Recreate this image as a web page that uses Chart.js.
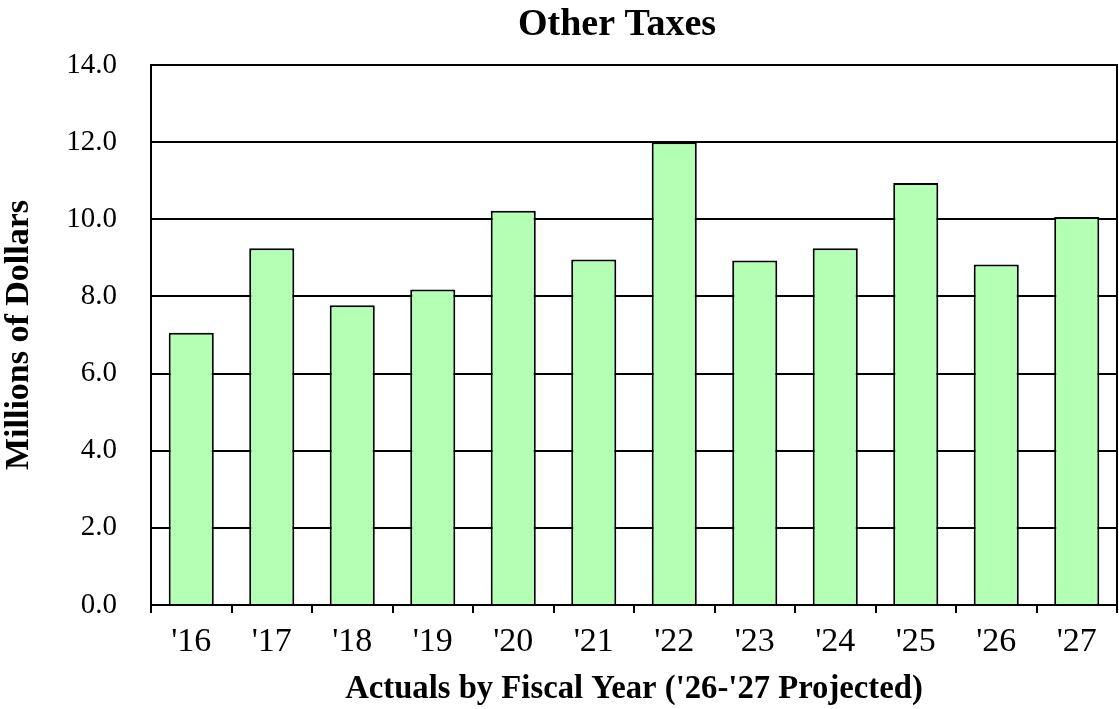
<!DOCTYPE html>
<html><head><meta charset="utf-8">
<style>html,body{margin:0;padding:0;background:#fff;overflow:hidden}#wrap{width:1119px;height:709px;position:relative}</style>
<script src="https://cdn.jsdelivr.net/npm/chart.js@4.4.0/dist/chart.umd.min.js"></script>
</head><body><div id="wrap"><canvas id="c" width="1119" height="709"></canvas></div>
<script>
const categories = ["'16","'17","'18","'19","'20","'21","'22","'23","'24","'25","'26","'27"];
const values = [7.06, 9.25, 7.77, 8.18, 10.22, 8.96, 12.0, 8.93, 9.25, 10.94, 8.83, 10.06];
const yMin = 0, yMax = 14, yStep = 2;
const titleText = "Other Taxes";
const xTitle = "Actuals by Fiscal Year ('26-'27 Projected)";
const yTitle = "Millions of Dollars";

const FONT = "'Liberation Serif','Times New Roman',serif";

const framePlugin = {
  id: 'frame',
  afterDatasetsDraw(chart) {
    const {ctx, chartArea: a} = chart;
    ctx.save();
    ctx.strokeStyle = '#000';
    ctx.lineWidth = 2;
    ctx.strokeRect(a.left, a.top, a.right - a.left, a.bottom - a.top);
    ctx.restore();
  }
};

const titlePlugin = {
  id: 'chartTitle',
  afterDraw(chart) {
    const {ctx, chartArea: a} = chart;
    ctx.save();
    ctx.fillStyle = '#000';
    ctx.font = "bold 38px " + FONT;
    ctx.textAlign = 'center';
    ctx.textBaseline = 'alphabetic';
    ctx.fillText(titleText, (a.left + a.right) / 2 - 17, a.top - 30);
    ctx.restore();
  }
};

new Chart(document.getElementById('c'), {
  type: 'bar',
  data: {
    labels: categories,
    datasets: [{
      data: values,
      backgroundColor: '#b3ffb3',
      borderColor: '#000',
      borderWidth: 2,
      barPercentage: 0.56,
      categoryPercentage: 1.0
    }]
  },
  options: {
    responsive: false,
    animation: false,
    devicePixelRatio: 1,
    layout: { padding: { left: 0, right: 2, top: 65, bottom: 0 } },
    plugins: {
      legend: { display: false },
      tooltip: { enabled: false },
      title: { display: false }
    },
    scales: {
      x: {
        offset: true,
        grid: { display: true, drawOnChartArea: false, drawTicks: true, tickLength: 8, color: '#000', lineWidth: 2 },
        border: { display: true, color: '#000', width: 2 },
        ticks: { color: '#000', font: { family: FONT, size: 34, lineHeight: 1.2 }, padding: 9, maxRotation: 0, autoSkip: false },
        title: { display: true, text: xTitle, color: '#000', font: { family: FONT, size: 32.7, weight: 'bold', lineHeight: 1.2 }, padding: { top: 0, bottom: 0 } },
        afterFit(scale) { scale.height = 104; }
      },
      y: {
        min: yMin, max: yMax,
        grid: { display: true, drawTicks: false, color: '#000', lineWidth: 2 },
        border: { display: true, color: '#000', width: 2 },
        ticks: { stepSize: yStep, color: '#000', font: { family: FONT, size: 29, lineHeight: 1.2 }, padding: 34, callback: v => Number(v).toFixed(1) },
        title: { display: true, text: yTitle, color: '#000', font: { family: FONT, size: 34, weight: 'bold', lineHeight: 1.0 }, padding: { top: 2, bottom: 0 } },
        afterFit(scale) { scale.width = 151; }
      }
    }
  },
  plugins: [framePlugin, titlePlugin]
});
</script></body></html>
